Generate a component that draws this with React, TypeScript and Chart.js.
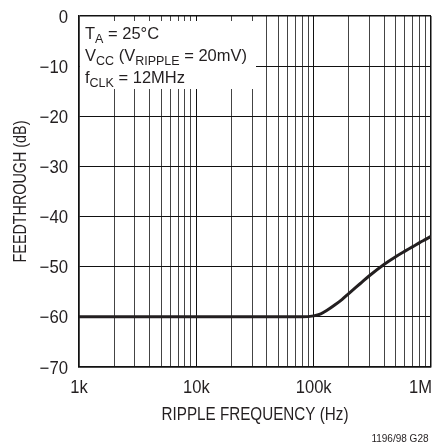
import React, { useEffect, useRef } from 'react';
import { Chart, registerables } from 'chart.js';

Chart.register(...registerables);

// ---- data ----
const freqHz = [1000, 10000, 50000, 80000, 100000, 115000, 130000, 150000, 175000, 200000, 250000, 300000, 400000, 500000, 600000, 700000, 800000, 900000, 1000000];
const feedthroughDb = [-60, -60, -60, -60, -59.8, -59.4, -58.7, -57.7, -56.5, -55.3, -53.35, -51.75, -49.5, -48.0, -46.9, -46.0, -45.2, -44.55, -43.95];

const xTickValues = [
  1000, 2000, 3000, 4000, 5000, 6000, 7000, 8000, 9000,
  10000, 20000, 30000, 40000, 50000, 60000, 70000, 80000, 90000,
  100000, 200000, 300000, 400000, 500000, 600000, 700000, 800000, 900000,
  1000000,
];
const xDecadeValues = [1000, 10000, 100000, 1000000];
const xDecadeLabels = ['1k', '10k', '100k', '1M'];
const yTickValues = [0, -10, -20, -30, -40, -50, -60, -70];

const xTitle = 'RIPPLE FREQUENCY (Hz)';
const yTitle = 'FEEDTHROUGH (dB)';
const footnote = '1196/98 G28';

// legend lines: [text, isSubscript]
const legendLine1: [string, boolean][] = [['T', false], ['A', true], [' = 25°C', false]];
const legendLine2: [string, boolean][] = [['V', false], ['CC', true], [' (V', false], ['RIPPLE', true], [' = 20mV)', false]];
const legendLine3: [string, boolean][] = [['f', false], ['CLK', true], [' = 12MHz', false]];
const legendLines = [legendLine1, legendLine2, legendLine3];

const FONT = '"Liberation Sans", Arial, Helvetica, sans-serif';
const INK = '#231f20';

function condensedText(
  ctx: CanvasRenderingContext2D,
  text: string,
  x: number,
  y: number,
  size: number,
  sx: number,
  align: CanvasTextAlign,
  rotate = 0,
) {
  ctx.save();
  ctx.translate(x, y);
  if (rotate) ctx.rotate(rotate);
  ctx.scale(sx, 1);
  ctx.font = `${size}px ${FONT}`;
  ctx.textAlign = align;
  ctx.textBaseline = 'alphabetic';
  ctx.fillStyle = INK;
  ctx.fillText(text, 0, 0);
  ctx.restore();
}

const annotationPlugin = {
  id: 'annotations',
  beforeDatasetsDraw(chart: any) {
    const { ctx, chartArea } = chart;
    ctx.save();
    // white legend box covering grid
    ctx.fillStyle = '#ffffff';
    const bx = chartArea.left + 1;
    const by = 21;
    ctx.fillRect(bx, by, 256 - bx, 89 - by);
    // legend text
    ctx.fillStyle = INK;
    ctx.textBaseline = 'alphabetic';
    ctx.textAlign = 'left';
    const baselines = [39, 61, 82.5];
    legendLines.forEach((line, i) => {
      let x = 85;
      const y = baselines[i];
      line.forEach(([txt, sub]) => {
        ctx.font = sub ? `12.5px ${FONT}` : `16.5px ${FONT}`;
        ctx.fillText(txt, x, sub ? y + 4 : y);
        x += ctx.measureText(txt).width;
      });
    });
    ctx.restore();
  },
  afterDraw(chart: any) {
    const { ctx, chartArea, scales } = chart;
    const xs = scales.x;
    const ys = scales.y;
    // y tick labels
    yTickValues.forEach((v) => {
      const py = ys.getPixelForValue(v);
      const label = v === 0 ? '0' : '\u2212' + Math.abs(v);
      condensedText(ctx, label, 68, py + 6.5, 18, 0.93, 'right');
    });
    // x tick labels
    xDecadeValues.forEach((v, i) => {
      const px = xs.getPixelForValue(v);
      const last = i === xDecadeValues.length - 1;
      condensedText(ctx, xDecadeLabels[i], last ? chartArea.right + 1 : px, 393, 18, 0.92, last ? 'right' : 'center');
    });
    // axis titles
    condensedText(ctx, xTitle, (chartArea.left + chartArea.right) / 2, 420, 17.5, 0.87, 'center');
    condensedText(ctx, yTitle, 26, (chartArea.top + chartArea.bottom) / 2, 17.5, 0.82, 'center', -Math.PI / 2);
    // footnote
    ctx.save();
    ctx.fillStyle = INK;
    ctx.font = `10px ${FONT}`;
    ctx.textAlign = 'right';
    ctx.textBaseline = 'alphabetic';
    ctx.fillText(footnote, 428.5, 441.5);
    ctx.restore();
  },
};

export default function App() {
  const canvasRef = useRef<HTMLCanvasElement | null>(null);

  useEffect(() => {
    if (!canvasRef.current) return;
    const chart = new Chart(canvasRef.current, {
      type: 'line',
      data: {
        datasets: [
          {
            data: freqHz.map((f, i) => ({ x: f, y: feedthroughDb[i] })),
            borderColor: INK,
            borderWidth: 3,
            pointRadius: 0,
            cubicInterpolationMode: 'monotone',
            fill: false,
          },
        ],
      },
      options: {
        animation: false,
        responsive: false,
        layout: { padding: { top: 16, right: 11, left: 0, bottom: 0 }, autoPadding: false },
        plugins: { legend: { display: false }, tooltip: { enabled: false }, title: { display: false } },
        scales: {
          x: {
            type: 'logarithmic',
            min: 1000,
            max: 1000000,
            afterFit: (s: any) => { s.height = 77; },
            afterBuildTicks: (s: any) => { s.ticks = xTickValues.map((v) => ({ value: v })); },
            ticks: { display: false, autoSkip: false },
            grid: {
              drawTicks: false,
              color: (c: any) => (xDecadeValues.includes(c.tick?.value) ? '#111' : '#444'),
              lineWidth: (c: any) => {
                const v = c.tick?.value;
                if (v === 1000000 || v === 1000) return 1.5;
                return 1;
              },
            },
            border: { display: true, color: '#111', width: 1.5 },
            title: { display: false },
          },
          y: {
            type: 'linear',
            min: -70,
            max: 0,
            afterFit: (s: any) => { s.width = 79; },
            afterBuildTicks: (s: any) => { s.ticks = yTickValues.map((v) => ({ value: v })); },
            ticks: { display: false },
            grid: {
              drawTicks: false,
              color: '#111',
              lineWidth: (c: any) => (c.tick?.value === 0 || c.tick?.value === -70 ? 1.5 : 1),
            },
            border: { display: true, color: '#111', width: 1.5 },
            title: { display: false },
          },
        },
      },
      plugins: [annotationPlugin],
    } as any);
    return () => chart.destroy();
  }, []);

  return (
    <div style={{ position: 'fixed', left: 0, top: 0, width: 442, height: 444, background: '#fff' }}>
      <canvas ref={canvasRef} width={442} height={444} style={{ width: 442, height: 444, display: 'block' }} />
    </div>
  );
}
